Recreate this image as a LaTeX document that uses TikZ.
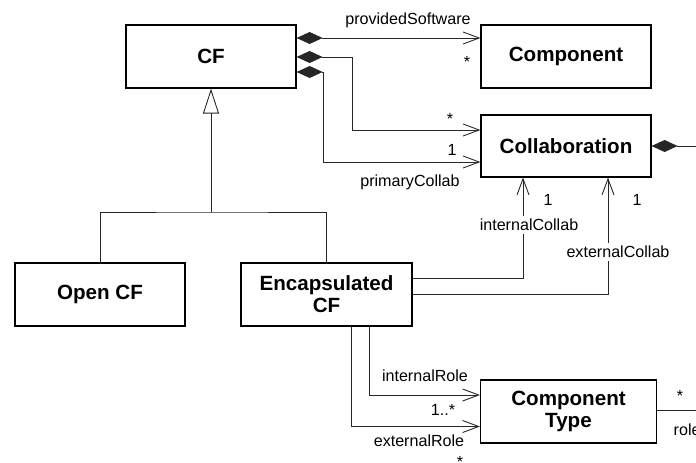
\documentclass[tikz,border=0pt]{standalone}
\usepackage{fontspec}
\setmainfont{Liberation Sans}
\usepackage{tikz}
\usetikzlibrary{arrows.meta}
\usetikzlibrary{positioning}
\tikzset{
  MyClass/.style={
    rectangle, draw=black, line width=1.2pt,
    minimum width=170pt, minimum height=63pt,
    align=center, font=\bfseries\fontsize{20.6}{22}\selectfont,
  },
  MyLine/.style={line width=0.9pt, draw=black!85},
  MyAssoc/.style={MyLine, {Diamond[length=26pt,width=12pt]}-{Straight Barb[length=16pt,width=12pt]}},
  MyNav/.style={MyLine, -{Straight Barb[length=16pt,width=12pt]}},
  MyText/.style={font=\fontsize{16.1}{18}\selectfont, inner sep=1pt, anchor=base},
}
\begin{document}
\begin{tikzpicture}[x=1pt,y=-1pt]
\useasboundingbox (0,0) rectangle (696,463);
\node[MyClass] (CF) at (211,56.5) {CF};
\node[MyClass] (Component) at (566,56.5) {Component};
\node[MyClass, minimum height=62pt] (Collab) at (566,146) {Collaboration};
\node[MyClass] (OpenCF) at (100,294.5) {Open CF};
\node[MyClass, minimum width=171pt] (EncCF) at (326.5,294.5) {Encapsulated\\CF};
\node[MyClass, minimum width=176pt] (CompType) at (568.5,411.5) {Component\\Type};
\coordinate (Gen) at (211,212);
\coordinate (CollabEnd) at (696,146);
\coordinate (RoleEnd) at (696,410);
% generalization
\draw[MyLine, -{Triangle[open,length=25pt,width=16pt]}] (Gen) -- (CF.south);
\draw[MyLine] (OpenCF.north) |- (Gen) -| (EncCF.north);
% compositions of CF
\draw[MyAssoc] ([yshift=18.5pt]CF.east) -- ([yshift=18.5pt]Component.west);
\draw[MyAssoc] ([yshift=-0.5pt]CF.east) -- ++(56,0) |- ([yshift=16pt]Collab.west);
\draw[MyAssoc] ([yshift=-15.5pt]CF.east) -- ++(27,0) |- ([yshift=-16pt]Collab.west);
\draw[MyLine, {Diamond[length=26pt,width=12pt]}-] (Collab.east) -- (CollabEnd);
% encapsulated CF
\draw[MyNav] ([yshift=16.5pt]EncCF.east) -| ([xshift=-43pt]Collab.south);
\draw[MyNav] ([yshift=0.5pt]EncCF.east) -| ([xshift=42pt]Collab.south);
\draw[MyNav] ([xshift=42.5pt]EncCF.south) |- ([yshift=16.5pt]CompType.west);
\draw[MyNav] ([xshift=25pt]EncCF.south) |- ([yshift=-15pt]CompType.west);
\draw[MyLine] ([yshift=1.5pt]CompType.east) -- (RoleEnd);
% labels
\node[MyText] (ProvSW) at (408,24) {providedSoftware};
\node[MyText] (ProvSWMult) at (467,67.5) {*};
\node[MyText] (CollabMult) at (450,124) {*};
\node[MyText] (PrimMult) at (452,155) {1};
\node[MyText] (PrimCollab) at (410,186.5) {primaryCollab};
\node[MyText] (IntCollabMult) at (548,205) {1};
\node[MyText] (ExtCollabMult) at (637,205) {1};
\node[MyText, fill=white, inner sep=3pt] (IntCollab) at (529,230.5) {internalCollab};
\node[MyText, fill=white, inner sep=3pt] (ExtCollab) at (618,257.5) {externalCollab};
\node[MyText] (IntRole) at (425,381.5) {internalRole};
\node[MyText] (IntRoleMult) at (443,415) {1..*};
\node[MyText] (ExtRole) at (419,446.5) {externalRole};
\node[MyText] (ExtRoleMult) at (460,467.5) {*};
\node[MyText] (RoleMult) at (680,401.5) {*};
\node[MyText, anchor=base west] (Role) at (672.5,435) {role};
\end{tikzpicture}
\end{document}
